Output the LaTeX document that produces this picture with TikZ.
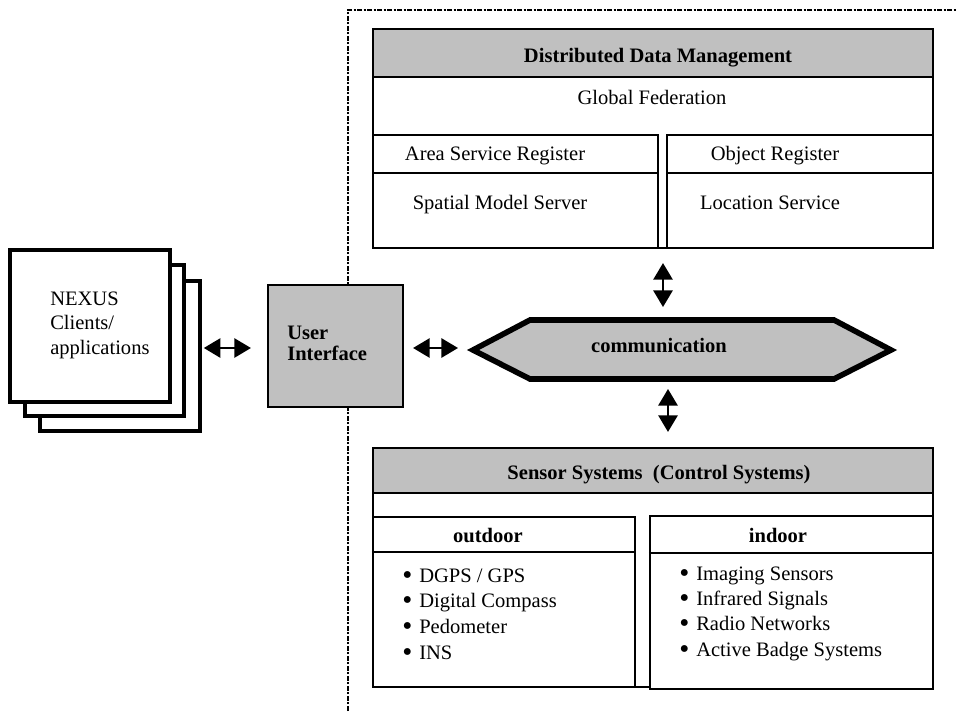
\documentclass[tikz,border=0pt]{standalone}
\usepackage{fontspec}
\setmainfont{Liberation Serif}
\usetikzlibrary{arrows.meta,fit,calc}
\definecolor{hdr}{RGB}{192,192,192}
\newcommand{\itembul}{\makebox[12.75pt][l]{\smash{\raisebox{-1.8pt}{\scalebox{1.4}{•}}}}}
\begin{document}
\begin{tikzpicture}[x=0.75pt,y=-0.75pt,
  txt/.style={font=\fontsize{15.4}{18}\selectfont, inner sep=0pt},
  btxt/.style={font=\fontsize{15.4}{18}\selectfont\bfseries, inner sep=0pt},
  box/.style={draw, line width=1.6pt, inner sep=0pt, fill=white},
  hdrbox/.style={draw, line width=2.1pt, inner sep=0pt, fill=hdr},
  stackbox/.style={draw, line width=2.7pt, inner sep=0pt, fill=white},
  dbl/.style={line width=1.5pt, {Triangle[width=14.5pt,length=12.5pt]}-{Triangle[width=14.5pt,length=12.5pt]}},
  frame/.style={line width=1.5pt, dash pattern=on 4pt off 1pt on 1.5pt off 1pt},
  commshape/.style={line width=4.2pt, fill=hdr, line join=miter}
]
\useasboundingbox (0,0) rectangle (956,711);

% dotted frame
\draw[frame] (348,711) -- (348,10) -- (956,10);

% client stack
\node[stackbox, fit={(40,281) (200,431)}] (stack3) {};
\node[stackbox, fit={(25,265) (184,416)}] (stack2) {};
\node[stackbox, fit={(10,250) (170,402)}] (clients) {};
\node[txt, anchor=base west] (nexus) at (50,305) {NEXUS};
\node[txt, anchor=base west] (clientsl) at (50,329) {Clients/};
\node[txt, anchor=base west] (appl) at (50,354) {applications};

% user interface
\node[hdrbox, line width=1.6pt, fit={(268,285) (403,407)}] (ui) {};
\node[btxt, anchor=base west] (user) at (287,339) {User};
\node[btxt, anchor=base west] (iface) at (287,360) {Interface};

% distributed data management
\node[box, fit={(373,29) (933,248)}] (ddm) {};
\node[hdrbox, fit={(373,29) (933,77)}] (ddmhead) {};
\node[btxt, anchor=base] (ddmt) at (658,62) {Distributed Data Management};
\node[txt, anchor=base] (gf) at (652,104) {Global Federation};
\node[box, fit={(373,135) (658,173)}] (asr) {};
\node[box, fit={(373,173) (658,248)}] (sms) {};
\node[box, fit={(667,135) (933,173)}] (objr) {};
\node[box, fit={(667,173) (933,248)}] (locs) {};
\node[txt, anchor=base] (asrt) at (495,160) {Area Service Register};
\node[txt, anchor=base] (objrt) at (775,160) {Object Register};
\node[txt, anchor=base] (smst) at (500,209) {Spatial Model Server};
\node[txt, anchor=base] (locst) at (770,209) {Location Service};

% communication
\coordinate (commW) at (467,350);
\coordinate (commN) at (663,317);
\coordinate (commS) at (668,382);
\draw[commshape] (473,350) -- (530,320) -- (834,320) -- (891,350) -- (834,379) -- (530,379) -- cycle;
\node[btxt, anchor=base] (comm) at (659,352) {communication};

% sensor systems
\node[box, fit={(373,448) (933,687)}] (sensor) {};
\node[hdrbox, fit={(373,448) (933,493)}] (sensorhead) {};
\node[btxt, anchor=base] (sensort) at (659,479) {Sensor Systems\ \ (Control Systems)};
\node[box, fit={(373,517) (635,687)}] (outdoor) {};
\node[box, fit={(650,516) (933,689)}] (indoor) {};
\draw[line width=1.9pt] (outdoor.west |- 0,552) -- (outdoor.east |- 0,552);
\draw[line width=1.9pt] (indoor.west |- 0,553) -- (indoor.east |- 0,553);
\node[btxt, anchor=base] (outt) at (488,542) {outdoor};
\node[btxt, anchor=base] (int) at (778,542) {indoor};

\node[txt, anchor=base west] (o1) at (402,582) {\itembul DGPS / GPS};
\node[txt, anchor=base west] (o2) at (402,607) {\itembul Digital Compass};
\node[txt, anchor=base west] (o3) at (402,633) {\itembul Pedometer};
\node[txt, anchor=base west] (o4) at (402,659) {\itembul INS};
\node[txt, anchor=base west] (i1) at (679,580) {\itembul Imaging Sensors};
\node[txt, anchor=base west] (i2) at (679,605) {\itembul Infrared Signals};
\node[txt, anchor=base west] (i3) at (679,630) {\itembul Radio Networks};
\node[txt, anchor=base west] (i4) at (679,656) {\itembul Active Badge Systems};

% connectors
\draw[dbl] ($(stack3.east |- ui.west)+(2,2)$) -- ($(ui.west)+(-16,2)$);
\draw[dbl] ($(ui.east)+(9,2)$) -- ($(commW)+(-9,-2)$);
\draw[dbl] ($(ddm.south)+(10,14)$) -- ($(commN)+(0,-10)$);
\draw[dbl] ($(commS)+(0,7)$) -- ($(sensor.north)+(15,-15)$);
\end{tikzpicture}
\end{document}
